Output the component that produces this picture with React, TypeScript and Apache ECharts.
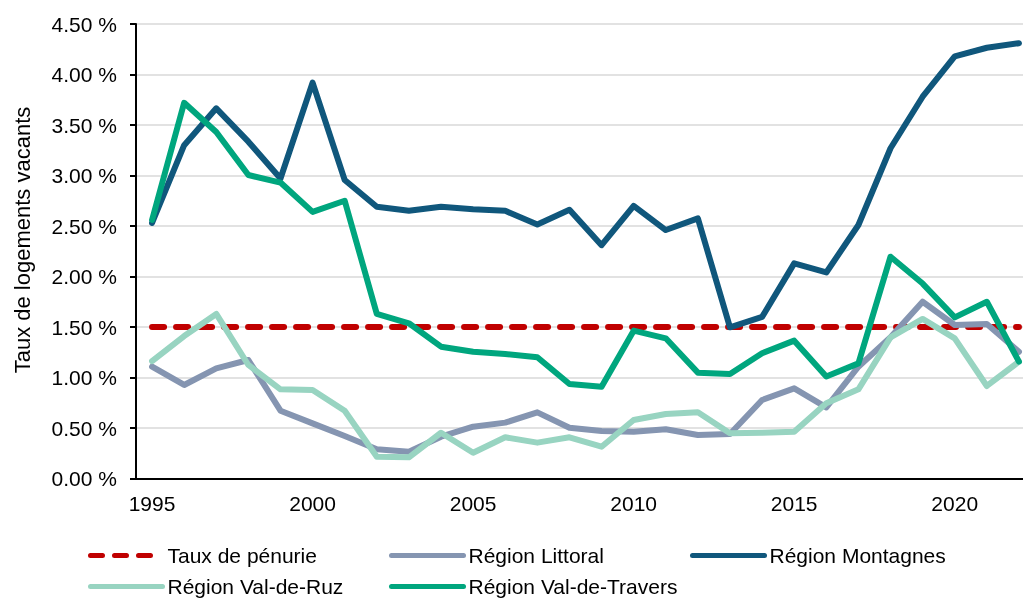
import { useEffect, useRef } from "react";
import * as echarts from "echarts";

const years = [
  "1995", "1996", "1997", "1998", "1999", "2000", "2001", "2002", "2003", "2004",
  "2005", "2006", "2007", "2008", "2009", "2010", "2011", "2012", "2013", "2014",
  "2015", "2016", "2017", "2018", "2019", "2020", "2021", "2022",
];

const tauxPenurie = [
  1.5, 1.5, 1.5, 1.5, 1.5, 1.5, 1.5, 1.5, 1.5, 1.5,
  1.5, 1.5, 1.5, 1.5, 1.5, 1.5, 1.5, 1.5, 1.5, 1.5,
  1.5, 1.5, 1.5, 1.5, 1.5, 1.5, 1.5, 1.5,
];

const littoral = [
  1.107, 0.926, 1.091, 1.173, 0.671, 0.546, 0.42, 0.289, 0.265, 0.414,
  0.513, 0.553, 0.655, 0.503, 0.47, 0.464, 0.487, 0.431, 0.44, 0.777,
  0.893, 0.705, 1.107, 1.398, 1.75, 1.52, 1.53, 1.255,
];

const montagnes = [
  2.53, 3.3, 3.665, 3.335, 2.97, 3.92, 2.955, 2.69, 2.65, 2.69,
  2.665, 2.65, 2.515, 2.66, 2.31, 2.7, 2.46, 2.575, 1.497, 1.6,
  2.13, 2.04, 2.51, 3.27, 3.78, 4.18, 4.265, 4.31,
];

const valDeRuz = [
  1.163, 1.41, 1.629, 1.124, 0.883, 0.876, 0.671, 0.216, 0.21, 0.453,
  0.255, 0.408, 0.355, 0.408, 0.315, 0.579, 0.639, 0.655, 0.447, 0.453,
  0.464, 0.745, 0.883, 1.398, 1.58, 1.388, 0.916, 1.157,
];

const valDeTravers = [
  2.56, 3.72, 3.43, 3.005, 2.93, 2.64, 2.75, 1.63, 1.537, 1.305,
  1.255, 1.233, 1.2, 0.936, 0.909, 1.464, 1.388, 1.048, 1.035, 1.24,
  1.365, 1.01, 1.14, 2.196, 1.93, 1.595, 1.75, 1.157,
];

const yMin = 0;
const yMax = 4.5;
const yStep = 0.5;

const FONT = "'Liberation Sans', Arial, Helvetica, sans-serif";

const line = (name: string, data: number[], color: string, extra: any = {}) => ({
  type: "line",
  name,
  data,
  symbol: "none",
  lineStyle: { color, width: 6, cap: "round", join: "round", ...extra },
  itemStyle: { color },
  emphasis: { disabled: true },
});

const legendBase = {
  orient: "horizontal",
  padding: 0,
  itemWidth: 72,
  itemHeight: 14,
  itemGap: 10,
  itemStyle: { opacity: 0 },
  lineStyle: { width: 5, cap: "round" },
  textStyle: { fontSize: 21, color: "#000", fontFamily: FONT, lineHeight: 16 },
  selectedMode: false,
};

export default function App() {
  const ref = useRef<HTMLDivElement>(null);
  useEffect(() => {
    const chart = echarts.init(ref.current!, null, { renderer: "svg" });
    chart.setOption({
      animation: false,
      grid: {
        left: 136,
        right: -12,
        top: 24,
        bottom: 122.5,
        containLabel: false,
        outerBoundsMode: "none",
      },
      xAxis: {
        type: "category",
        data: years,
        boundaryGap: true,
        axisLine: { lineStyle: { color: "#000", width: 2 } },
        axisTick: { interval: 4, length: 6, lineStyle: { color: "#000", width: 2 } },
        axisLabel: { interval: 4, fontSize: 21, color: "#000", fontFamily: FONT, margin: 14 },
        splitLine: { show: false },
      },
      yAxis: {
        type: "value",
        min: yMin,
        max: yMax,
        interval: yStep,
        axisLine: { show: true, lineStyle: { color: "#000", width: 2 } },
        axisTick: { show: true, length: 6, lineStyle: { color: "#000", width: 2 } },
        axisLabel: {
          fontSize: 21,
          color: "#000",
          fontFamily: FONT,
          margin: 19,
          formatter: (v: number) => v.toFixed(2) + " %",
        },
        splitLine: { lineStyle: { color: "#d9d9d9", width: 1.5 } },
      },
      legend: [
        { ...legendBase, left: 88, top: 545, data: ["Taux de pénurie"] },
        { ...legendBase, left: 389, top: 545, data: ["Région Littoral"] },
        { ...legendBase, left: 690, top: 545, data: ["Région Montagnes"] },
        { ...legendBase, left: 88, top: 576, data: ["Région Val-de-Ruz"] },
        { ...legendBase, left: 389, top: 576, data: ["Région Val-de-Travers"] },
      ],
      graphic: [
        {
          type: "text",
          x: 22,
          y: 240,
          rotation: Math.PI / 2,
          style: {
            text: "Taux de logements vacants",
            fontSize: 22,
            fontFamily: FONT,
            fill: "#000",
            align: "center",
            verticalAlign: "middle",
          },
        },
      ],
      series: [
        line("Taux de pénurie", tauxPenurie, "#C00000", { type: [12, 12], width: 6 }),
        line("Région Littoral", littoral, "#8595B1"),
        line("Région Montagnes", montagnes, "#10577C"),
        line("Région Val-de-Ruz", valDeRuz, "#98D4C1"),
        line("Région Val-de-Travers", valDeTravers, "#00A67E"),
      ],
    });
    return () => chart.dispose();
  }, []);
  return (
    <div
      ref={ref}
      style={{ position: "fixed", left: 0, top: 0, width: 1023, height: 601 }}
    />
  );
}
